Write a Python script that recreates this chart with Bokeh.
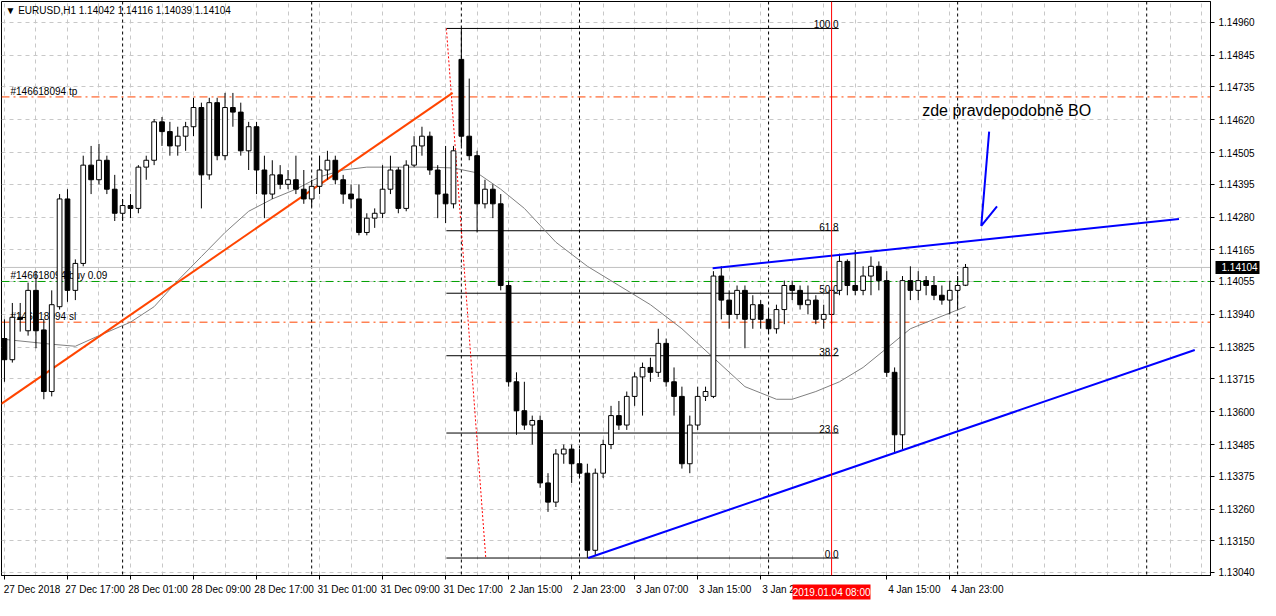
from bokeh.plotting import figure
from bokeh.models import (Range1d, FixedTicker, Span, Label, ColumnDataSource, PrintfTickFormatter,
                          LinearAxis)
from bokeh.core.properties import value
from bokeh.embed import file_html
from bokeh.resources import INLINE

FONT = "Liberation Sans"

# ---------------- data ----------------
symbol = "EURUSD"
timeframe = "H1"

open_ = [1.13856, 1.13782, 1.13930, 1.13883, 1.14024, 1.13886, 1.13671, 1.13967, 1.14343, 1.14024,
         1.14118, 1.14461, 1.14410, 1.14478, 1.14377, 1.14293, 1.14320, 1.14310, 1.14454, 1.14478,
         1.14612, 1.14578, 1.14528, 1.14562, 1.14595, 1.14662, 1.14427, 1.14679, 1.14494, 1.14662,
         1.14646, 1.14511, 1.14595, 1.14444, 1.14360, 1.14427, 1.14394, 1.14410, 1.14377, 1.14343,
         1.14387, 1.14444, 1.14478, 1.14410, 1.14360, 1.14343, 1.14226, 1.14276, 1.14293, 1.14377,
         1.14444, 1.14310, 1.14461, 1.14528, 1.14562, 1.14444, 1.14360, 1.14326, 1.14830, 1.14562,
         1.14494, 1.14326, 1.14377, 1.14326, 1.14041, 1.13705, 1.13604, 1.13554, 1.13570, 1.13352,
         1.13285, 1.13453, 1.13470, 1.13419, 1.13386, 1.13117, 1.13386, 1.13486, 1.13587, 1.13554,
         1.13654, 1.13722, 1.13755, 1.13738, 1.13839, 1.13705, 1.13654, 1.13419, 1.13554, 1.13654,
         1.13654, 1.14074, 1.13990, 1.13940, 1.14024, 1.13923, 1.13974, 1.13923, 1.13890, 1.13957,
         1.14041, 1.14024, 1.13974, 1.13990, 1.13923, 1.13940, 1.14024, 1.14125, 1.14041, 1.14024,
         1.14074, 1.14108, 1.14058, 1.13738, 1.13520, 1.14058, 1.14024, 1.14058, 1.14041, 1.14007,
         1.13990, 1.14024, 1.14042]
high = [1.13923, 1.13980, 1.13980, 1.14051, 1.14091, 1.13923, 1.14024, 1.14360, 1.14377, 1.14132,
        1.14494, 1.14528, 1.14535, 1.14494, 1.14427, 1.14343, 1.14360, 1.14461, 1.14494, 1.14622,
        1.14629, 1.14612, 1.14595, 1.14612, 1.14696, 1.14679, 1.14696, 1.14696, 1.14713, 1.14713,
        1.14679, 1.14612, 1.14612, 1.14494, 1.14478, 1.14461, 1.14444, 1.14494, 1.14444, 1.14410,
        1.14494, 1.14511, 1.14494, 1.14427, 1.14394, 1.14394, 1.14293, 1.14310, 1.14461, 1.14494,
        1.14454, 1.14478, 1.14562, 1.14595, 1.14578, 1.14461, 1.14528, 1.14528, 1.14938, 1.14763,
        1.14511, 1.14410, 1.14394, 1.14360, 1.14058, 1.13738, 1.13705, 1.13587, 1.13587, 1.13386,
        1.13470, 1.13486, 1.13486, 1.13470, 1.13419, 1.13402, 1.13503, 1.13621, 1.13638, 1.13671,
        1.13738, 1.13772, 1.13789, 1.13890, 1.13856, 1.13755, 1.13688, 1.13587, 1.13688, 1.13688,
        1.14091, 1.14108, 1.14024, 1.14041, 1.14041, 1.14007, 1.13990, 1.13957, 1.13974, 1.14058,
        1.14058, 1.14041, 1.14041, 1.14007, 1.13974, 1.14058, 1.14152, 1.14132, 1.14165, 1.14108,
        1.14142, 1.14125, 1.14091, 1.13755, 1.14074, 1.14108, 1.14091, 1.14074, 1.14074, 1.14041,
        1.14058, 1.14074, 1.14116]
low = [1.13705, 1.13772, 1.13880, 1.13866, 1.13822, 1.13644, 1.13654, 1.13957, 1.13984, 1.13990,
       1.14108, 1.14360, 1.14394, 1.14360, 1.14266, 1.14266, 1.14276, 1.14293, 1.14410, 1.14461,
       1.14528, 1.14494, 1.14494, 1.14511, 1.14562, 1.14310, 1.14410, 1.14478, 1.14478, 1.14595,
       1.14494, 1.14444, 1.14360, 1.14276, 1.14343, 1.14377, 1.14377, 1.14360, 1.14326, 1.14316,
       1.14360, 1.14410, 1.14394, 1.14326, 1.14310, 1.14216, 1.14216, 1.14242, 1.14276, 1.14360,
       1.14293, 1.14300, 1.14454, 1.14494, 1.14427, 1.14276, 1.14259, 1.14310, 1.14528, 1.14478,
       1.14226, 1.14310, 1.14276, 1.14024, 1.13688, 1.13520, 1.13537, 1.13486, 1.13335, 1.13251,
       1.13268, 1.13419, 1.13352, 1.13369, 1.13090, 1.13100, 1.13369, 1.13470, 1.13537, 1.13537,
       1.13621, 1.13587, 1.13705, 1.13722, 1.13688, 1.13587, 1.13402, 1.13386, 1.13537, 1.13638,
       1.13648, 1.13923, 1.13890, 1.13923, 1.13822, 1.13890, 1.13890, 1.13873, 1.13873, 1.13906,
       1.13990, 1.13957, 1.13940, 1.13906, 1.13890, 1.13906, 1.14007, 1.14007, 1.14007, 1.14007,
       1.14007, 1.14024, 1.13722, 1.13453, 1.13470, 1.13990, 1.13990, 1.14007, 1.13990, 1.13974,
       1.13940, 1.13957, 1.14039]
close = [1.13782, 1.13930, 1.13923, 1.14024, 1.13883, 1.13671, 1.13974, 1.14343, 1.14024, 1.14118,
         1.14461, 1.14410, 1.14478, 1.14377, 1.14293, 1.14320, 1.14310, 1.14454, 1.14478, 1.14612,
         1.14578, 1.14528, 1.14562, 1.14595, 1.14662, 1.14427, 1.14679, 1.14494, 1.14662, 1.14646,
         1.14511, 1.14595, 1.14444, 1.14360, 1.14427, 1.14394, 1.14410, 1.14377, 1.14343, 1.14387,
         1.14444, 1.14478, 1.14410, 1.14360, 1.14343, 1.14226, 1.14276, 1.14293, 1.14377, 1.14444,
         1.14310, 1.14461, 1.14528, 1.14562, 1.14444, 1.14360, 1.14326, 1.14511, 1.14562, 1.14494,
         1.14326, 1.14377, 1.14326, 1.14041, 1.13705, 1.13604, 1.13554, 1.13570, 1.13352, 1.13285,
         1.13453, 1.13470, 1.13419, 1.13386, 1.13117, 1.13386, 1.13486, 1.13587, 1.13554, 1.13654,
         1.13722, 1.13755, 1.13738, 1.13839, 1.13705, 1.13654, 1.13419, 1.13554, 1.13654, 1.13671,
         1.14074, 1.13990, 1.13940, 1.14024, 1.13923, 1.13974, 1.13923, 1.13890, 1.13957, 1.14041,
         1.14024, 1.13974, 1.13990, 1.13923, 1.13940, 1.14024, 1.14125, 1.14041, 1.14024, 1.14074,
         1.14108, 1.14058, 1.13738, 1.13520, 1.14058, 1.14024, 1.14058, 1.14041, 1.14007, 1.13990,
         1.14024, 1.14041, 1.14104]

# moving average (bar index, price)
ma_bar = [0, 6, 9, 12, 16, 19, 22, 25, 28, 31, 34, 37, 40, 43, 46, 50, 54, 57, 60, 63, 66, 70, 74,
          78, 82, 86, 90, 94, 98, 100, 103, 106, 109, 112, 115, 118, 122]
ma_val = [1.13853, 1.13836, 1.13829, 1.13866, 1.13913, 1.13967, 1.14058, 1.14142, 1.14226, 1.14300,
          1.14343, 1.14377, 1.14420, 1.14444, 1.14454, 1.14454, 1.14454, 1.14451, 1.14434, 1.14377,
          1.14310, 1.14192, 1.14108, 1.14041, 1.13974, 1.13890, 1.13789, 1.13688, 1.13644, 1.13644,
          1.13671, 1.13705, 1.13755, 1.13822, 1.13890, 1.13923, 1.13967]

# time axis labels (bar index -> label); the label under the cursor box is hidden
time_label_bar = [0, 8, 16, 24, 32, 40, 48, 56, 64, 72, 80, 88, 96, 112, 120]
time_label_text = ["27 Dec 2018", "27 Dec 17:00", "28 Dec 01:00", "28 Dec 09:00", "28 Dec 17:00",
                   "31 Dec 01:00", "31 Dec 09:00", "31 Dec 17:00", "2 Jan 15:00", "2 Jan 23:00",
                   "3 Jan 07:00", "3 Jan 15:00", "3 Jan 23:00", "4 Jan 15:00", "4 Jan 23:00"]
day_separator_bar = [15, 39, 58, 73, 97, 121, 145]

price_ticks = [1.14960, 1.14845, 1.14735, 1.14620, 1.14505, 1.14395, 1.14280, 1.14165, 1.14055,
               1.13940, 1.13825, 1.13715, 1.13600, 1.13485, 1.13375, 1.13260, 1.13150, 1.13040]

# orders
order_labels = ["#146618094 tp", "#146618094 buy 0.09", "#146618094 sl"]
order_prices = [1.14699, 1.14055, 1.13913]

# fibonacci retracement
fib_levels = [0.0, 23.6, 38.2, 50.0, 61.8, 100.0]
fib_high = 1.14938
fib_low = 1.13090
fib_bar_start = 56.1
fib_bar_end = 105.9
fib_anchor_bar = [56.1, 61.1]

# trend lines (bar, price)
orange_bar = [-0.4, 56.9]
orange_price = [1.13628, 1.14713]
blue_up_bar = [89.9, 149.1]
blue_up_price = [1.14101, 1.14273]
blue_low_bar = [74.1, 151.1]
blue_low_price = [1.13090, 1.13816]
arrow_bar = [125.0, 124.0, 126.0]
arrow_price = [1.14578, 1.14249, 1.14317]

note_text = "zde pravdepodobně BO"
note_bar = 116.5
note_price = 1.14652

cursor_bar = 105
cursor_text = "2019.01.04 08:00"

# ---------------- figure ----------------
x_min, x_max = -0.375, 153.1
y_min, y_max = 1.13029, 1.15032

bars = list(range(len(close)))
body_top = [max(o, c) for o, c in zip(open_, close)]
body_bot = [min(o, c) for o, c in zip(open_, close)]
body_col = ["white" if c >= o else "black" for o, c in zip(open_, close)]
src = ColumnDataSource(dict(x=bars, o=open_, h=high, l=low, c=close,
                            top=body_top, bot=body_bot, col=body_col))

p = figure(width=1260, height=600, x_range=Range1d(x_min, x_max), y_range=Range1d(y_min, y_max),
           y_axis_location="right", output_backend="svg", toolbar_location=None,
           background_fill_color="white", border_fill_color="white")
p.min_border_left = 1
p.min_border_top = 1
p.min_border_right = 0
p.min_border_bottom = 0
p.outline_line_color = "black"
p.outline_line_width = 1

# grid
grid_col = "#C8C8C8"
p.ygrid.ticker = FixedTicker(ticks=price_ticks)
p.ygrid.grid_line_color = grid_col
p.ygrid.grid_line_dash = "4 4"
p.xgrid.ticker = FixedTicker(ticks=list(range(0, 156, 4)))
p.xgrid.grid_line_color = grid_col
p.xgrid.grid_line_dash = "4 4"

# y axis
ya = p.yaxis[0]
ya.ticker = FixedTicker(ticks=price_ticks)
ya.formatter = PrintfTickFormatter(format="%.5f")
ya.axis_line_color = "black"
ya.major_tick_out = 4
ya.major_tick_in = 0
ya.minor_tick_line_color = None
ya.major_label_text_font = FONT
ya.major_label_text_font_size = "10px"
ya.major_label_text_color = "black"
ya.major_label_standoff = 4

# current price box drawn by a zero-width axis whose thick tick reaches back over the labels
pbox = LinearAxis(ticker=FixedTicker(ticks=[close[-1]]), formatter=PrintfTickFormatter(format="%.5f"),
                  axis_line_color=None, minor_tick_line_color=None,
                  major_tick_in=42, major_tick_out=2, major_tick_line_width=13,
                  major_tick_line_color="black", major_tick_line_cap="butt",
                  major_label_standoff=-38, major_label_text_color="white",
                  major_label_text_font=FONT, major_label_text_font_size="10px")
p.add_layout(pbox, "right")

# x axis: labels start at their bar (MT4 style) -> centre label a few bars right
xa = p.xaxis[0]
lab_shift = 3.5
major_pos = [b + lab_shift for b in time_label_bar]
xa.ticker = FixedTicker(ticks=major_pos, minor_ticks=time_label_bar)
xa.major_label_overrides = {m: t for m, t in zip(major_pos, time_label_text)}
xa.major_tick_line_color = None
xa.minor_tick_line_color = "black"
xa.minor_tick_out = 4
xa.minor_tick_in = 0
xa.axis_line_color = "black"
xa.major_label_text_font = FONT
xa.major_label_text_font_size = "10px"
xa.major_label_text_color = "black"
xa.major_label_standoff = 2

# cursor time box on the time axis (same trick)
tbox = LinearAxis(ticker=FixedTicker(ticks=[cursor_bar]), major_label_overrides={cursor_bar: cursor_text},
                  axis_line_color=None, minor_tick_line_color=None,
                  major_tick_in=13, major_tick_out=2, major_tick_line_width=78,
                  major_tick_line_color="red", major_tick_line_cap="butt",
                  major_label_standoff=-13, major_label_text_color="white",
                  major_label_text_font=FONT, major_label_text_font_size="10px")
p.add_layout(tbox, "below")

# separators and horizontal order lines (background)
for b in day_separator_bar:
    p.add_layout(Span(location=b, dimension="height", line_color="black", line_dash="3 3",
                      line_width=1, level="underlay"))
order_colors = ["#FF4500", "#00A000", "#FF4500"]
for pr, colr in zip(order_prices, order_colors):
    p.add_layout(Span(location=pr, dimension="width", line_color=colr, line_dash="8 4 2 4",
                      line_width=1, level="underlay"))
p.add_layout(Span(location=close[-1], dimension="width", line_color="#C0C0C0", line_width=1,
                  level="underlay"))

p.text(x=[x_min] * len(order_prices), y=order_prices, text=order_labels, x_offset=9,
       text_baseline="bottom", text_font=value(FONT), text_font_size="10px", text_color="black")

# fibonacci
fib_prices = [fib_low + (fib_high - fib_low) * lv / 100.0 for lv in fib_levels]
p.segment(x0=[fib_bar_start] * 6, x1=[fib_bar_end] * 6, y0=fib_prices, y1=fib_prices,
          line_color="black", line_width=1)
p.text(x=[fib_bar_end] * 6, y=fib_prices, text=["%.1f" % lv for lv in fib_levels],
       text_align="right", text_baseline="bottom", text_font=value(FONT),
       text_font_size="10px", text_color="black")
p.line(fib_anchor_bar, [fib_high, fib_low], line_color="red", line_dash="2 2", line_width=1)

# moving average
p.line(ma_bar, ma_val, line_color="#808080", line_width=1)

# orange trend line (behind candles)
p.line(orange_bar, orange_price, line_color="#FF4500", line_width=2)

# candles
p.segment(x0="x", y0="h", x1="x", y1="l", source=src, line_color="black", line_width=1)
p.vbar(x="x", width=0.6, top="top", bottom="bot", source=src, fill_color="col",
       line_color="black", line_width=1)

# blue lines
p.line(blue_up_bar, blue_up_price, line_color="#0000FF", line_width=2)
p.line(blue_low_bar, blue_low_price, line_color="#0000FF", line_width=2)
p.line(arrow_bar, arrow_price, line_color="#0000FF", line_width=2)

p.text(x=[note_bar], y=[note_price], text=[note_text], text_baseline="middle",
       text_font=value(FONT), text_font_size="16px", text_color="black")

# cursor line
p.add_layout(Span(location=cursor_bar, dimension="height", line_color="#FF0000", line_width=1))

# header
header = "\u25BC %s,%s  %.5f %.5f %.5f %.5f" % (symbol, timeframe, open_[-1], high[-1], low[-1], close[-1])
p.add_layout(Label(x=x_min, y=y_max, x_offset=4, y_offset=-3, text=header, text_baseline="top",
                   text_font=FONT, text_font_size="10px", text_color="black"))

open("out.html", "w").write(file_html(p, INLINE))
